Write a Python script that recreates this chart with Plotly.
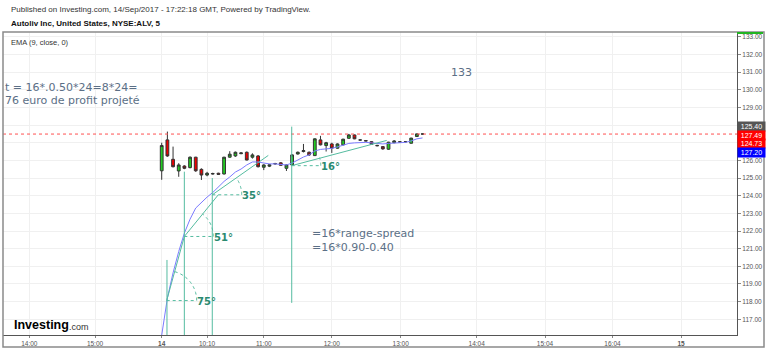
import math
import plotly.graph_objects as go

# ---------------- data ----------------
bar_idx = list(range(47))
opens = [125.41, 127.16, 126.06, 125.40, 125.68, 125.59, 126.18, 125.49, 125.17, 125.23,
         125.27, 125.23, 126.18, 126.25, 126.38, 126.46, 126.18, 126.25, 125.61, 125.67,
         125.80, 125.86, 125.55, 125.74, 126.36, 126.50, 126.46, 126.27, 127.16, 126.84,
         126.93, 126.69, 126.88, 127.25, 127.44, 127.16, 127.12, 127.06, 126.85, 126.78,
         126.63, 127.00, 127.05, 127.05, 126.97, 127.35, 127.50]
highs = [127.00, 127.63, 126.78, 125.84, 125.72, 126.22, 126.20, 125.55, 125.35, 125.30,
         125.30, 126.20, 126.52, 126.50, 126.45, 126.50, 126.40, 126.30, 125.78, 125.80,
         125.86, 125.90, 125.76, 126.35, 126.50, 126.93, 126.50, 127.25, 127.39, 127.05,
         127.00, 126.96, 127.22, 127.50, 127.46, 127.19, 127.15, 127.08, 126.88, 126.80,
         127.05, 127.15, 127.08, 127.08, 127.28, 127.52, 127.52]
lows = [124.90, 126.20, 125.60, 125.07, 125.50, 125.55, 125.35, 124.89, 125.10, 125.20,
        125.18, 125.20, 126.15, 126.20, 126.35, 126.00, 126.10, 125.60, 125.45, 125.62,
        125.76, 125.70, 125.40, 125.70, 126.33, 126.45, 126.25, 126.25, 126.85, 126.50,
        126.42, 126.66, 126.85, 127.22, 127.20, 127.12, 127.08, 126.88, 126.80, 126.60,
        126.60, 126.97, 127.02, 127.02, 126.95, 127.33, 127.47]
closes = [126.84, 126.25, 125.64, 125.74, 125.55, 126.18, 125.41, 125.17, 125.27, 125.25,
          125.21, 126.18, 126.35, 126.46, 126.42, 126.02, 126.31, 125.64, 125.74, 125.75,
          125.82, 125.72, 125.74, 126.31, 126.46, 126.55, 126.31, 127.22, 126.88, 127.00,
          126.69, 126.93, 127.20, 127.44, 127.22, 127.15, 127.10, 126.91, 126.83, 126.65,
          127.03, 127.10, 127.04, 127.06, 127.26, 127.50, 127.49]
ema9 = [116.10, 118.20, 119.63, 120.84, 121.88, 122.67, 123.30, 123.62, 123.92, 124.18,
        124.49, 124.81, 125.06, 125.34, 125.51, 125.74, 125.91, 125.91, 125.85, 125.80,
        125.80, 125.77, 125.74, 125.85, 126.02, 126.19, 126.31, 126.53, 126.62, 126.65,
        126.68, 126.76, 126.88, 126.96, 126.99, 127.02, 127.02, 126.99, 126.96, 126.93,
        126.96, 126.99, 127.00, 127.02, 127.10, 127.22, 127.27]

x_tick_vals = [-23.35, -11.76, 0, 8, 18, 30, 42.15, 55.55, 67.6, 79.5, 91.6]
x_tick_text = ["14:00", "15:00", "<b>14</b>", "10:10", "11:00", "12:00", "13:00",
               "14:04", "15:04", "16:04", "<b>15</b>"]
y_tick_vals = list(range(117, 134))
y_hidden_ticks = [127, 128]  # covered by the price tags

last_line_price = 127.49
price_tags = ["125.40", "127.49", "124.73", "127.20"]
price_tag_colors = ["#555555", "#ff0000", "#ff0000", "#0000ff"]

# angle drawings
angle_deg = [75, 51, 35, 16]
angle_anchor_idx = [0.88, 3.99, 8.92, 22.93]
angle_anchor_price = [118.06, 121.69, 124.05, 125.70]
angle_end_idx = [3.99, 9.98, 18.8, 39.68]
angle_end_price = [121.69, 124.05, 126.28, 127.13]
angle_radius_px = [30, 29, 29.4, 29]

vline_idx = [0.93, 3.99, 8.92, 22.93]
vline_top = [120.36, 125.36, 125.00, 127.91]
vline_bottom = [116.11, 116.11, 116.11, 117.93]

note_left = ["t = 16*.0.50*24=8*24=", "76 euro de profit projeté"]
note_left_price = [130.10, 129.41]
note_133 = "133"
note_133_pos = (52.8, 130.99)
note_formula = ["=16*range-spread", "=16*0.90-0.40"]
note_formula_idx = 26.16
note_formula_price = 121.47

# ---------------- layout geometry ----------------
W, H = 768, 350
ML, MR, MT, MB = 3, 31, 32, 15
X_RANGE = [-27.99, 101.46]
Y_RANGE = [116.11, 133.27]
PW, PH = W - ML - MR, H - MT - MB
XPX = PW / (X_RANGE[1] - X_RANGE[0])
YPX = PH / (Y_RANGE[1] - Y_RANGE[0])

TEAL = "#55bca0"
TEAL_TXT = "#2a8a70"
NOTE_C = "#5b6f86"

fig = go.Figure()
fig.add_trace(go.Candlestick(
    x=bar_idx, open=opens, high=highs, low=lows, close=closes,
    increasing=dict(fillcolor="#22cc22", line=dict(color="#333333", width=1)),
    decreasing=dict(fillcolor="#ee0000", line=dict(color="#333333", width=1)),
    whiskerwidth=0, hoverinfo="skip", showlegend=False))
fig.add_trace(go.Scatter(x=bar_idx, y=ema9, mode="lines",
                         line=dict(color="#7b7bff", width=1), hoverinfo="skip",
                         showlegend=False))

shapes = []
shapes.append(dict(type="line", xref="paper", x0=0, x1=1, yref="y",
                   y0=last_line_price, y1=last_line_price,
                   line=dict(color="#ff5050", width=1, dash="dot")))
for xi, yt, yb in zip(vline_idx, vline_top, vline_bottom):
    shapes.append(dict(type="line", xref="x", yref="y", x0=xi, x1=xi, y0=yb, y1=yt,
                       line=dict(color=TEAL, width=1)))
for deg, ax, ay, ex, ey, r in zip(angle_deg, angle_anchor_idx, angle_anchor_price,
                                  angle_end_idx, angle_end_price, angle_radius_px):
    shapes.append(dict(type="line", xref="x", yref="y", x0=ax, y0=ay, x1=ex, y1=ey,
                       line=dict(color=TEAL, width=1)))
    shapes.append(dict(type="line", xref="x", yref="y", x0=ax, y0=ay, x1=ax + r / XPX, y1=ay,
                       line=dict(color=TEAL, width=1, dash="dot")))
    pts = []
    n = 24
    for k in range(n + 1):
        phi = math.radians(deg) * k / n
        pts.append((ax + r * math.cos(phi) / XPX, ay + r * math.sin(phi) / YPX))
    path = "M " + " L ".join(f"{px:.4f},{py:.4f}" for px, py in pts)
    shapes.append(dict(type="path", xref="x", yref="y", path=path,
                       line=dict(color=TEAL, width=1, dash="dot")))


def py2paper(py):
    return (H - MB - py) / PH


def px2paper(px):
    return (px - ML) / PW


shapes.append(dict(type="rect", xref="paper", yref="paper",
                   x0=px2paper(3), x1=px2paper(764), y0=py2paper(347), y1=py2paper(32),
                   line=dict(color="#8a8a8a", width=1.5), fillcolor="rgba(0,0,0,0)"))
shapes.append(dict(type="line", xref="paper", yref="paper",
                   x0=px2paper(737), x1=px2paper(763), y0=py2paper(33), y1=py2paper(33),
                   line=dict(color="#22b522", width=2)))

annotations = []
for deg, ax, ay, r in zip(angle_deg, angle_anchor_idx, angle_anchor_price, angle_radius_px):
    annotations.append(dict(x=ax, y=ay, xref="x", yref="y", text=f"<b>{deg}°</b>",
                            showarrow=False, xshift=r + 10, yshift=-1,
                            font=dict(family="DejaVu Sans", size=10, color=TEAL_TXT)))
for t, p in zip(note_left, note_left_price):
    annotations.append(dict(x=0, y=p, xref="paper", yref="y", text=t, showarrow=False,
                            xanchor="left", font=dict(family="DejaVu Sans", size=11, color=NOTE_C)))
annotations.append(dict(x=note_133_pos[0], y=note_133_pos[1], xref="x", yref="y", text=note_133,
                        showarrow=False, font=dict(family="DejaVu Sans", size=11, color=NOTE_C)))
annotations.append(dict(x=note_formula_idx, y=note_formula_price, xref="x", yref="y",
                        text="<br>".join(note_formula), showarrow=False, align="left",
                        xanchor="left", yanchor="middle",
                        font=dict(family="DejaVu Sans", size=11, color=NOTE_C)))
tag_centers_py = [126, 135, 143.8, 152.8]
for t, c, cy in zip(price_tags, price_tag_colors, tag_centers_py):
    annotations.append(dict(x=1, y=py2paper(cy), xref="paper", yref="paper", text=t,
                            showarrow=False, xanchor="left", yanchor="middle",
                            bgcolor=c, width=27, height=9, borderpad=0,
                            font=dict(family="Liberation Sans", size=7, color="white")))
annotations.append(dict(x=px2paper(9), y=py2paper(9), xref="paper", yref="paper",
                        text="Published on Investing.com, 14/Sep/2017 - 17:22:18 GMT, Powered by TradingView.",
                        showarrow=False, xanchor="left", yanchor="middle",
                        font=dict(family="Liberation Sans", size=8, color="#333333")))
annotations.append(dict(x=px2paper(9), y=py2paper(24), xref="paper", yref="paper",
                        text="<b>Autoliv Inc, United States, NYSE:ALV, 5</b>",
                        showarrow=False, xanchor="left", yanchor="middle",
                        font=dict(family="Liberation Sans", size=8, color="#111111")))
annotations.append(dict(x=px2paper(9), y=py2paper(42.5), xref="paper", yref="paper",
                        text="EMA (9, close, 0)", showarrow=False, xanchor="left", yanchor="middle",
                        font=dict(family="Liberation Sans", size=7.5, color="#333333")))
annotations.append(dict(x=px2paper(12), y=py2paper(325), xref="paper", yref="paper",
                        text="<b>Investing</b>", showarrow=False, xanchor="left", yanchor="middle",
                        font=dict(family="Liberation Sans", size=12.5, color="#000000")))
annotations.append(dict(x=px2paper(67), y=py2paper(327), xref="paper", yref="paper",
                        text=".com", showarrow=False, xanchor="left", yanchor="middle",
                        font=dict(family="Liberation Sans", size=9, color="#333333")))

fig.update_layout(
    width=W, height=H,
    margin=dict(l=ML, r=MR, t=MT, b=MB, autoexpand=False),
    paper_bgcolor="white", plot_bgcolor="white",
    showlegend=False, hovermode=False,
    shapes=shapes, annotations=annotations,
    xaxis=dict(range=X_RANGE, rangeslider=dict(visible=False), tickvals=x_tick_vals,
               ticktext=x_tick_text, showgrid=True, gridcolor="#f0f0f0", gridwidth=1,
               zeroline=False, showline=True, linecolor="#555555", linewidth=1,
               ticks="outside", ticklen=2, tickcolor="#888888",
               tickfont=dict(family="Liberation Sans", size=6.5, color="#555555")),
    yaxis=dict(range=Y_RANGE, side="right", tickvals=y_tick_vals,
               ticktext=["" if v in y_hidden_ticks else f"{v:.2f}" for v in y_tick_vals],
               showgrid=True, gridcolor="#f0f0f0", gridwidth=1, zeroline=False,
               showline=True, linecolor="#555555", linewidth=1, ticks="outside",
               ticklen=3, tickcolor="#888888",
               tickfont=dict(family="Liberation Sans", size=6.5, color="#555555")),
)

fig.write_html("out.html")
